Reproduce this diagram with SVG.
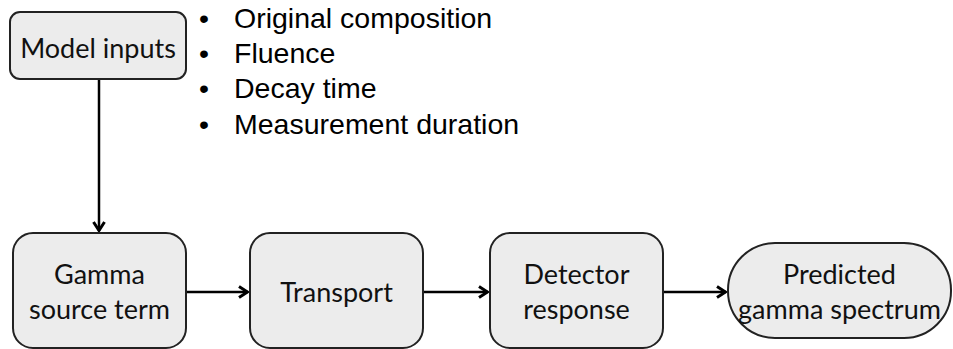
<svg xmlns="http://www.w3.org/2000/svg" width="953" height="349" viewBox="0 0 953 349">
<defs>
<style>
.box{fill:#ececec;stroke:#222;stroke-width:2}
.lbl{font-family:Lato,"Open Sans",sans-serif;font-size:27px;fill:#111;text-anchor:middle}
.bul{font-family:"Liberation Sans",Arial,sans-serif;font-size:28.5px;fill:#000}
.con{stroke:#000;stroke-width:2.5;fill:none}
</style>
<marker id="ah" viewBox="0 0 12 14" refX="11" refY="7" markerWidth="12" markerHeight="14" orient="auto" markerUnits="userSpaceOnUse">
<path d="M2,1.5 L10.5,7 L2,12.5" fill="none" stroke="#000" stroke-width="3"/>
</marker>
</defs>
<rect width="953" height="349" fill="#fff"/>
<g id="connectors">
<line class="con" x1="99" y1="79" x2="99" y2="231" marker-end="url(#ah)"/>
<line class="con" x1="187" y1="292" x2="248" y2="292" marker-end="url(#ah)"/>
<line class="con" x1="424" y1="292" x2="488" y2="292" marker-end="url(#ah)"/>
<line class="con" x1="664" y1="292" x2="726" y2="292" marker-end="url(#ah)"/>
</g>
<g id="model-inputs">
<rect class="box" x="10" y="12" width="176" height="67" rx="10"/>
<text class="lbl" x="98" y="58">Model inputs</text>
</g>
<g id="inputs-list">
<text class="bul" x="199" y="28">•</text><text class="bul" x="234" y="28">Original composition</text>
<text class="bul" x="199" y="63">•</text><text class="bul" x="234" y="63">Fluence</text>
<text class="bul" x="199" y="98">•</text><text class="bul" x="234" y="98">Decay time</text>
<text class="bul" x="199" y="134">•</text><text class="bul" x="234" y="134">Measurement duration</text>
</g>
<g id="gamma-source">
<rect class="box" x="13" y="233" width="173" height="115" rx="20"/>
<text class="lbl" x="99.5" y="284">Gamma</text>
<text class="lbl" x="99.5" y="319">source term</text>
</g>
<g id="transport">
<rect class="box" x="250" y="233" width="173" height="115" rx="20"/>
<text class="lbl" x="336.5" y="302">Transport</text>
</g>
<g id="detector">
<rect class="box" x="490" y="233" width="173" height="115" rx="20"/>
<text class="lbl" x="576.5" y="284">Detector</text>
<text class="lbl" x="576.5" y="319">response</text>
</g>
<g id="predicted">
<rect class="box" x="728" y="243" width="223" height="95" rx="47"/>
<text class="lbl" x="839.5" y="284">Predicted</text>
<text class="lbl" x="839.5" y="319">gamma spectrum</text>
</g>
</svg>
